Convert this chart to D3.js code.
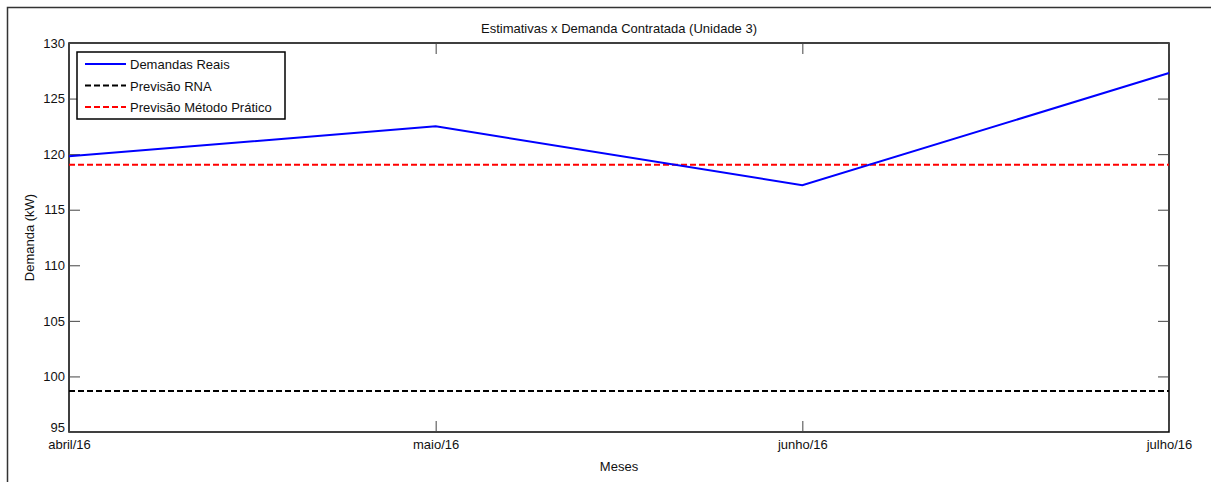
<!DOCTYPE html>
<html>
<head>
<meta charset="utf-8">
<style>
  body{margin:0;background:#fff;}
  svg text{font-family:"Liberation Sans",Arial,sans-serif;fill:#111;}
</style>
<script src="https://cdn.jsdelivr.net/npm/d3@7"></script>
</head>
<body>
<svg id="chart" width="1211" height="482"></svg>
<script>
var meses = ["abril/16", "maio/16", "junho/16", "julho/16"];
var demandasReais = [119.8, 122.5, 117.2, 127.3];
var previsaoRNA = [98.7, 98.7, 98.7, 98.7];
var previsaoPratico = [119.05, 119.05, 119.05, 119.05];
var yTicks = [95, 100, 105, 110, 115, 120, 125, 130];

var svg = d3.select("#chart");
var pLeft = 69, pRight = 1169, pTop = 43, pBottom = 432;

// outer frame
svg.append("rect").attr("x", 7.5).attr("y", 7.5).attr("width", 1230).attr("height", 500)
  .attr("fill", "none").attr("stroke", "#333").attr("stroke-width", 1.5);

var x = d3.scalePoint().domain(meses).range([pLeft, pRight]);
var y = d3.scaleLinear().domain([95, 130]).range([pBottom, pTop]);

svg.append("rect").attr("x", pLeft).attr("y", pTop).attr("width", pRight - pLeft).attr("height", pBottom - pTop)
  .attr("fill", "#fff").attr("stroke", "#000").attr("stroke-width", 1.5);

// ticks inside on all sides
var tk = 11;
svg.append("g").attr("transform", "translate(0," + pBottom + ")")
  .call(d3.axisBottom(x).tickSizeInner(-tk).tickSizeOuter(0).tickPadding(8))
  .call(function(g){ g.select(".domain").remove(); });
svg.append("g").attr("transform", "translate(0," + pTop + ")")
  .call(d3.axisTop(x).tickSizeInner(-tk).tickSizeOuter(0).tickFormat(""))
  .call(function(g){ g.select(".domain").remove(); });
svg.append("g").attr("transform", "translate(" + pLeft + ",0)")
  .call(d3.axisLeft(y).tickValues(yTicks).tickSizeInner(-tk).tickSizeOuter(0).tickPadding(4))
  .call(function(g){ g.select(".domain").remove(); });
svg.append("g").attr("transform", "translate(" + pRight + ",0)")
  .call(d3.axisRight(y).tickValues(yTicks).tickSizeInner(-tk).tickSizeOuter(0).tickFormat(""))
  .call(function(g){ g.select(".domain").remove(); });
svg.selectAll(".tick line").attr("stroke", "#444");
svg.selectAll(".tick text").attr("font-size", 13).attr("fill", "#111");
svg.selectAll(".tick text").filter(function(d){ return d === 95; }).attr("dy", "-0.05em");

var line = d3.line().x(function(d, i){ return x(meses[i]); }).y(function(d){ return y(d); });

svg.append("path").datum(previsaoRNA).attr("d", line).attr("fill", "none")
  .attr("stroke", "#000").attr("stroke-width", 2).attr("stroke-dasharray", "6,3");
svg.append("path").datum(previsaoPratico).attr("d", line).attr("fill", "none")
  .attr("stroke", "#ff0000").attr("stroke-width", 2).attr("stroke-dasharray", "6,3");
svg.append("path").datum(demandasReais).attr("d", line).attr("fill", "none")
  .attr("stroke", "#0000ff").attr("stroke-width", 2);

// titles
svg.append("text").attr("x", (pLeft + pRight) / 2).attr("y", 33).attr("text-anchor", "middle")
  .attr("font-size", 13).text("Estimativas x Demanda Contratada (Unidade 3)");
svg.append("text").attr("x", (pLeft + pRight) / 2).attr("y", 471).attr("text-anchor", "middle")
  .attr("font-size", 13).text("Meses");
svg.append("text").attr("transform", "translate(34," + (pTop + pBottom) / 2 + ") rotate(-90)")
  .attr("text-anchor", "middle").attr("font-size", 13).text("Demanda (kW)");

// legend
var legend = [
  {name: "Demandas Reais", color: "#0000ff", dash: null},
  {name: "Previsão RNA", color: "#000", dash: "6,3"},
  {name: "Previsão Método Prático", color: "#ff0000", dash: "6,3"}
];
var lg = svg.append("g").attr("transform", "translate(77,52)");
lg.append("rect").attr("width", 208).attr("height", 67).attr("fill", "#fff")
  .attr("stroke", "#000").attr("stroke-width", 1.5);
legend.forEach(function(d, i){
  var yy = 12 + i * 21.5;
  lg.append("line").attr("x1", 8).attr("x2", 49).attr("y1", yy).attr("y2", yy)
    .attr("stroke", d.color).attr("stroke-width", 2).attr("stroke-dasharray", d.dash);
  lg.append("text").attr("x", 53).attr("y", yy + 5).attr("font-size", 13).text(d.name);
});
</script>
</body>
</html>
